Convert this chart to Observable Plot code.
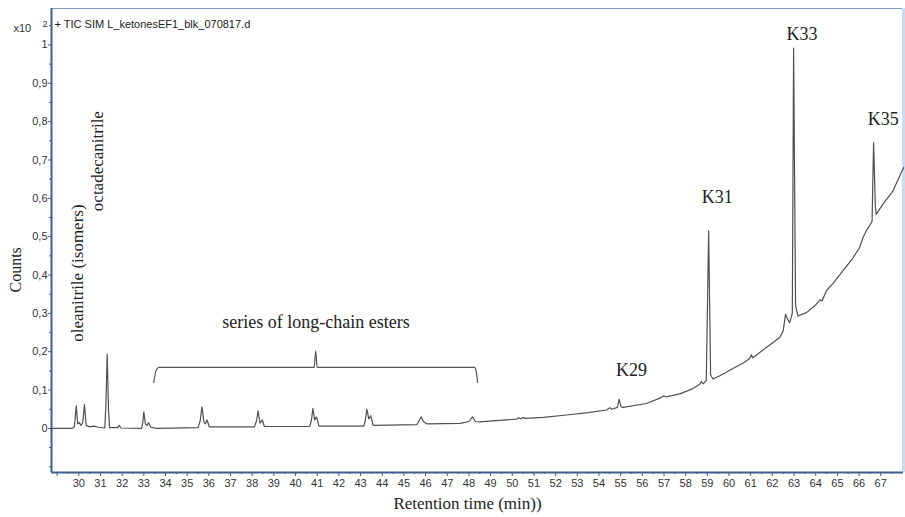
<!DOCTYPE html>
<html>
<head>
<meta charset="utf-8">
<script src="https://cdn.jsdelivr.net/npm/d3@7"></script>
<script src="https://cdn.jsdelivr.net/npm/@observablehq/plot@0.6"></script>
<style>
  html, body { margin: 0; padding: 0; background: #ffffff; }
</style>
</head>
<body>
<div id="chart"></div>
<script>
// ---- Chromatogram trace (retention time in min, counts ×10^2) ----
const times = [
  28.70, 29.70, 29.80, 29.88, 29.95, 30.02, 30.10, 30.18, 30.26, 30.34,
  30.50, 30.70, 30.90, 31.20, 31.25, 31.31, 31.37, 31.42, 31.80, 31.86,
  31.95, 32.90, 32.95, 33.00, 33.07, 33.15, 33.22, 33.32, 33.60, 35.50,
  35.60, 35.68, 35.78, 35.84, 35.92, 36.02, 38.10, 38.20, 38.27, 38.36,
  38.47, 38.56, 40.65, 40.73, 40.80, 40.88, 40.97, 41.08, 43.15, 43.22,
  43.29, 43.38, 43.47, 43.58, 45.60, 45.70, 45.80, 45.90, 46.05, 47.60,
  48.00, 48.16, 48.30, 48.51, 49.40, 50.20, 50.28, 50.38, 50.50, 50.60,
  51.43, 52.51, 53.50, 54.35, 54.50, 54.60, 54.85, 54.93, 55.02, 55.12,
  56.19, 56.81, 57.00, 57.10, 57.73, 58.30, 58.65, 58.72, 58.80, 58.95,
  59.06, 59.15, 59.26, 59.60, 60.20, 60.70, 60.95, 61.03, 61.10, 61.72,
  62.34, 62.50, 62.61, 62.70, 62.80, 62.92, 62.98, 63.07, 63.18, 63.57,
  64.00, 64.20, 64.30, 64.49, 64.80, 65.25, 65.70, 66.02, 66.20, 66.33,
  66.48, 66.60, 66.67, 66.75, 66.79, 67.10, 67.56, 68.05
];
const counts = [
  0.000, 0.000, 0.005, 0.059, 0.012, 0.015, 0.008, 0.015, 0.062, 0.008,
  0.004, 0.006, 0.003, 0.001, 0.060, 0.194, 0.050, 0.002, 0.002, 0.008,
  0.001, 0.000, 0.015, 0.043, 0.012, 0.008, 0.015, 0.003, 0.000, 0.002,
  0.020, 0.056, 0.015, 0.012, 0.022, 0.004, 0.004, 0.020, 0.046, 0.014,
  0.022, 0.005, 0.005, 0.020, 0.052, 0.022, 0.030, 0.006, 0.006, 0.020,
  0.050, 0.025, 0.033, 0.008, 0.010, 0.020, 0.030, 0.018, 0.012, 0.013,
  0.018, 0.030, 0.018, 0.017, 0.021, 0.024, 0.028, 0.025, 0.028, 0.026,
  0.029, 0.035, 0.041, 0.048, 0.054, 0.050, 0.055, 0.076, 0.056, 0.055,
  0.065, 0.079, 0.085, 0.082, 0.090, 0.103, 0.115, 0.122, 0.116, 0.125,
  0.515, 0.140, 0.129, 0.138, 0.157, 0.172, 0.182, 0.192, 0.184, 0.211,
  0.237, 0.255, 0.298, 0.285, 0.276, 0.300, 0.992, 0.320, 0.293, 0.302,
  0.322, 0.335, 0.333, 0.359, 0.378, 0.411, 0.443, 0.471, 0.500, 0.515,
  0.528, 0.540, 0.745, 0.580, 0.558, 0.585, 0.619, 0.680
];

// ---- Brace over the ester series ----
const braceX = [33.46, 33.56, 33.70, 40.86, 40.93, 41.00, 48.26, 48.33, 48.40];
const braceY = [0.120, 0.150, 0.159, 0.159, 0.202, 0.159, 0.159, 0.150, 0.120];

// ---- Peak annotations ----
const annotLabels = ["oleanitrile (isomers)", "octadecanitrile", "series of long-chain esters", "K29", "K31", "K33", "K35"];
const annotX      = [29.96, 30.88, 40.94, 55.50, 59.46, 63.37, 67.12];
const annotY      = [0.405, 0.697, 0.276, 0.152, 0.602, 1.027, 0.806];
const annotRotate = [-90, -90, 0, 0, 0, 0, 0];

// ---- Axes ----
const xDomain = [28.74, 68.05];
const yDomain = [-0.115, 1.095];
const xTickValues = [29,30,31,32,33,34,35,36,37,38,39,40,41,42,43,44,45,46,47,48,
                     49,50,51,52,53,54,55,56,57,58,59,60,61,62,63,64,65,66,67];
const xTickLabels = ["","30","31","32","33","34","35","36","37","38","39","40","41","42","43","44","45","46","47","48",
                     "49","50","51","52","53","54","55","56","57","58","59","60","61","62","63","64","65","66","67"];
const xMinorTicks = [29.5,30.5,31.5,32.5,33.5,34.5,35.5,36.5,37.5,38.5,39.5,40.5,41.5,42.5,43.5,44.5,45.5,46.5,47.5,48.5,
                     49.5,50.5,51.5,52.5,53.5,54.5,55.5,56.5,57.5,58.5,59.5,60.5,61.5,62.5,63.5,64.5,65.5,66.5,67.5];
const yTickValues = [0, 0.1, 0.2, 0.3, 0.4, 0.5, 0.6, 0.7, 0.8, 0.9, 1];
const yTickLabels = ["0", "0,1", "0,2", "0,3", "0,4", "0,5", "0,6", "0,7", "0,8", "0,9", "1"];
const yMinorTicks = [-0.1, -0.05, 0.05, 0.15, 0.25, 0.35, 0.45, 0.55, 0.65, 0.75, 0.85, 0.95, 1.05];

const title = "+ TIC SIM L_ketonesEF1_blk_070817.d";
const xLabel = "Retention time (min))";
const yLabel = "Counts";

const trace = times.map((t, i) => ({t, c: counts[i]}));
const brace = braceX.map((x, i) => ({x, y: braceY[i]}));
const annots = annotLabels.map((label, i) => ({label, x: annotX[i], y: annotY[i], r: annotRotate[i]}));

const serif = "'Liberation Serif', 'Times New Roman', serif";
const sans = "'Liberation Sans', Arial, sans-serif";

const chart = Plot.plot({
  width: 905,
  height: 517,
  marginLeft: 51,
  marginRight: 2,
  marginTop: 8,
  marginBottom: 45,
  x: {domain: xDomain},
  y: {domain: yDomain},
  style: {fontFamily: sans, fontSize: "11px", color: "#333", background: "#ffffff", overflow: "visible"},
  marks: [
    // minor ticks
    Plot.axisX({ticks: xMinorTicks, tickSize: 2, tickFormat: () => "", label: null, stroke: "#3e5f8a"}),
    Plot.axisY({ticks: yMinorTicks, tickSize: 2, tickFormat: () => "", label: null, stroke: "#3e5f8a"}),
    // major ticks
    Plot.axisX({ticks: xTickValues, tickSize: 4, tickPadding: 3, label: null, stroke: "#3e5f8a",
                tickFormat: d => xTickLabels[xTickValues.indexOf(d)], fontSize: 11, fill: "#333"}),
    Plot.axisY({ticks: yTickValues, tickSize: 3, tickPadding: 1, label: null, stroke: "#3e5f8a",
                tickFormat: d => yTickLabels[yTickValues.indexOf(d)], fontSize: 11, fill: "#333"}),
    // frame
    Plot.ruleY([yDomain[1]], {stroke: "#7f9fc4", strokeWidth: 1.2}),
    Plot.ruleX([xDomain[1]], {stroke: "#c9ddf2", strokeWidth: 3}),
    Plot.ruleX([xDomain[0]], {stroke: "#3e5f8a", strokeWidth: 2}),
    Plot.ruleY([yDomain[0]], {stroke: "#3e5f8a", strokeWidth: 2}),
    // chromatogram
    Plot.line(trace, {x: "t", y: "c", stroke: "#505050", strokeWidth: 1.2, curve: "linear"}),
    // brace
    Plot.line(brace, {x: "x", y: "y", stroke: "#555", strokeWidth: 1.2, curve: "monotone-x"}),
    // annotations
    Plot.text(annots.filter(d => d.r !== 0), {x: "x", y: "y", text: "label", rotate: -90,
              fontFamily: serif, fontSize: 17, fill: "#222"}),
    Plot.text(annots.filter(d => d.r === 0), {x: "x", y: "y", text: "label",
              fontFamily: serif, fontSize: 18, fill: "#222"}),
    // title and scale factor
    Plot.text([title], {frameAnchor: "top-left", dx: 3, dy: 12, textAnchor: "start", fontSize: 11, fill: "#222"}),
    Plot.text(["x10"], {frameAnchor: "top-left", dx: -38, dy: 16, textAnchor: "start", fontSize: 11, fill: "#333"}),
    Plot.text(["2"], {frameAnchor: "top-left", dx: -9, dy: 12, textAnchor: "start", fontSize: 9, fill: "#333"}),
    // axis titles
    Plot.text([yLabel], {frameAnchor: "left", dx: -36, dy: 52, rotate: -90, fontFamily: serif, fontSize: 16, fill: "#222"}),
    Plot.text([xLabel], {frameAnchor: "bottom", dx: -10, dy: 36, fontFamily: serif, fontSize: 17, fill: "#222"})
  ]
});

document.getElementById("chart").appendChild(chart);
</script>
</body>
</html>
